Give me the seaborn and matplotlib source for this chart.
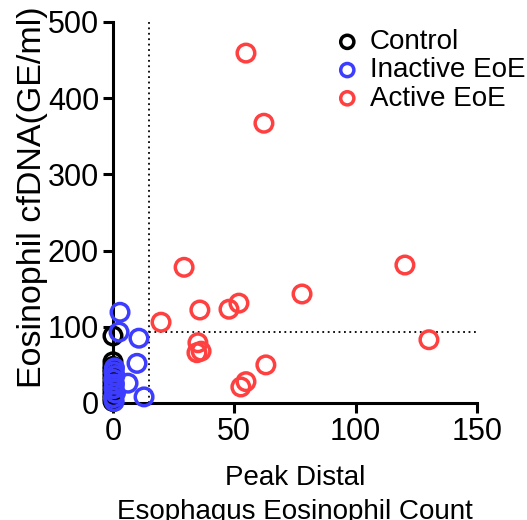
import matplotlib
matplotlib.use("Agg")
import matplotlib.pyplot as plt
import seaborn as sns

sns.set_style("ticks")
plt.rcParams['font.family'] = ['Liberation Sans', 'DejaVu Sans']
plt.rcParams['text.color'] = 'black'
plt.rcParams['axes.labelcolor'] = 'black'
plt.rcParams['axes.edgecolor'] = 'black'

groups = ["Control", "Inactive EoE", "Active EoE"]
colors = ["#000000", "#3d3dff", "#ff4040"]

control_x = [0, 0, 0, 0, 0, 0, 0, 0, 0, 0, 0, 0, 0]
control_y = [88, 54, 48, 44, 40, 35, 30, 25, 20, 15, 10, 6, 2]

inactive_x = [2.9, 2.5, 10.7, 9.9, 6.2, 12.8, 0.6, 0.4, 0.8, 0.3, 0.6, 0.4, 1.0, 0.2, 0.5]
inactive_y = [119, 93, 85, 52, 26, 8, 46, 41, 36, 31, 25, 19, 13, 7, 2]

active_x = [54.8, 62.2, 29.3, 120.3, 77.9, 19.8, 51.9, 47.8, 35.8, 35.0, 36.3, 34.6, 63.0, 54.8, 52.7, 130.2]
active_y = [459, 367, 178, 181, 143, 106, 131, 123, 122, 79, 68, 66, 50, 28, 21, 83]

cut_x = 15
cut_y = 93

fig = plt.figure(figsize=(5.27, 5.20), dpi=100)
ax = fig.add_axes([0.2144, 0.225, 0.6907, 0.733])

for g, c, xs, ys in zip(groups, colors,
                        [control_x, inactive_x, active_x],
                        [control_y, inactive_y, active_y]):
    sns.scatterplot(x=xs, y=ys, ax=ax, marker="o", s=160,
                    facecolors="none", edgecolor=c, linewidth=2.5,
                    label=g, clip_on=False, zorder=3)

ax.axvline(cut_x, ymin=0, ymax=1, color="black", linestyle=(0, (1, 2)), linewidth=1.3, zorder=1)
ax.plot([cut_x, 150], [cut_y, cut_y], color="black", linestyle=(0, (1, 2)), linewidth=1.3, zorder=1)

ax.set_xlim(0, 150)
ax.set_ylim(0, 500)
ax.set_xticks([0, 50, 100, 150])
ax.set_yticks([0, 100, 200, 300, 400, 500])
sns.despine(ax=ax)
for s in ["left", "bottom"]:
    ax.spines[s].set_linewidth(2.2)
    ax.spines[s].set_color("black")
ax.tick_params(axis="both", labelsize=22, width=2.2, length=7, pad=3,
               color="black", labelcolor="black")

ax.set_xlabel("Peak Distal\nEsophagus Eosinophil Count", fontsize=20,
              labelpad=13, linespacing=1.42, color="black")
ax.set_ylabel("Eosinophil cfDNA(GE/ml)", fontsize=24.5, color="black")
ax.yaxis.set_label_coords(-0.178, 0.54)

leg = ax.legend(loc="upper left", bbox_to_anchor=(0.575, 1.01), frameon=False,
                fontsize=20, markerscale=0.75, handletextpad=0.3,
                labelspacing=0.08, borderaxespad=0.0, handlelength=1.0)
for t in leg.get_texts():
    t.set_color("black")

fig.savefig("out.png", dpi=100)
